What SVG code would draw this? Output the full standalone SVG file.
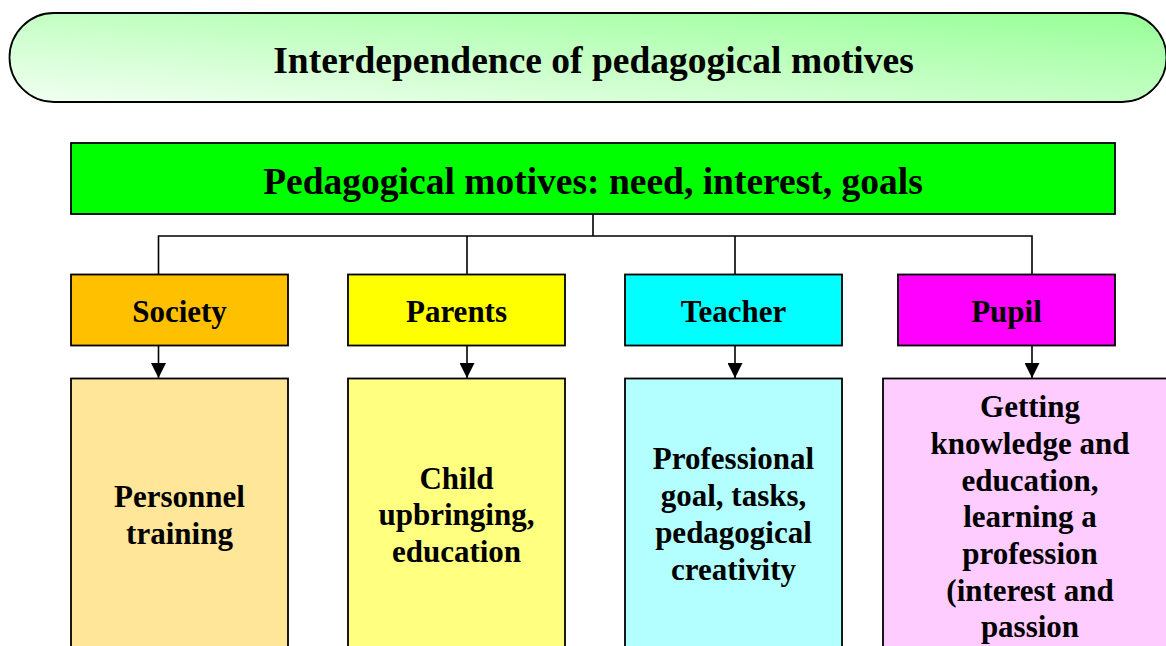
<svg xmlns="http://www.w3.org/2000/svg" width="1166" height="646" viewBox="0 0 1166 646">
  <defs>
    <linearGradient id="bannerFill" x1="0" y1="1" x2="1" y2="0">
      <stop offset="0" stop-color="#f2fff2"/>
      <stop offset="1" stop-color="#96ff96"/>
    </linearGradient>
    <marker id="arrow" markerUnits="userSpaceOnUse" markerWidth="16" markerHeight="15" refX="15" refY="7.5" orient="auto">
      <path d="M0,0 L15,7.5 L0,15 Z" fill="#000"/>
    </marker>
    <style>
      .box { stroke: #000; stroke-width: 1.8; }
      .t { font-family: "Liberation Serif", "Times New Roman", serif; font-weight: bold; fill: #000; text-anchor: middle; }
      .big { font-size: 37.5px; }
      .lbl { font-size: 31px; }
      .wire { fill: none; stroke: #000; stroke-width: 1.6; }
    </style>
  </defs>

  <!-- title banner -->
  <g id="title">
    <rect class="box" x="9.5" y="13" width="1157" height="89" rx="44.5" ry="44.5" fill="url(#bannerFill)"/>
    <text class="t big" x="593.5" y="72.5">Interdependence of pedagogical motives</text>
  </g>

  <!-- root node -->
  <g id="motives">
    <rect class="box" x="71" y="143" width="1044" height="71" fill="#00ff00"/>
    <text class="t big" x="593" y="193.5">Pedagogical motives: need, interest, goals</text>
  </g>

  <!-- connectors -->
  <g id="connectors">
    <path class="wire" d="M593,214 V236 M158.5,274 V236 H1032 V274 M467,236 V274 M735,236 V274"/>
    <path class="wire" d="M158.5,346 V378" marker-end="url(#arrow)"/>
    <path class="wire" d="M467,346 V378" marker-end="url(#arrow)"/>
    <path class="wire" d="M735,346 V378" marker-end="url(#arrow)"/>
    <path class="wire" d="M1032,346 V378" marker-end="url(#arrow)"/>
  </g>

  <!-- actors -->
  <g id="society">
    <rect class="box" x="71" y="274.5" width="217" height="71" fill="#ffc000"/>
    <text class="t lbl" x="179.5" y="321.5">Society</text>
  </g>
  <g id="parents">
    <rect class="box" x="348" y="274.5" width="217" height="71" fill="#ffff00"/>
    <text class="t lbl" x="456.5" y="321.5">Parents</text>
  </g>
  <g id="teacher">
    <rect class="box" x="625" y="274.5" width="217" height="71" fill="#00ffff"/>
    <text class="t lbl" x="733.5" y="321.5">Teacher</text>
  </g>
  <g id="pupil">
    <rect class="box" x="898" y="274.5" width="217" height="71" fill="#ff00ff"/>
    <text class="t lbl" x="1006.5" y="321.5">Pupil</text>
  </g>

  <!-- motives of each actor -->
  <g id="society-motive">
    <rect class="box" x="71" y="378.5" width="217" height="290" fill="#ffe699"/>
    <text class="t lbl" x="179.5" y="507">Personnel</text>
    <text class="t lbl" x="179.5" y="543.5">training</text>
  </g>
  <g id="parents-motive">
    <rect class="box" x="348" y="378.5" width="217" height="290" fill="#ffff80"/>
    <text class="t lbl" x="456.5" y="488.5">Child</text>
    <text class="t lbl" x="456.5" y="525">upbringing,</text>
    <text class="t lbl" x="456.5" y="561.5">education</text>
  </g>
  <g id="teacher-motive">
    <rect class="box" x="625" y="378.5" width="217" height="290" fill="#b3ffff"/>
    <text class="t lbl" x="733.5" y="469">Professional</text>
    <text class="t lbl" x="733.5" y="506">goal, tasks,</text>
    <text class="t lbl" x="733.5" y="543">pedagogical</text>
    <text class="t lbl" x="733.5" y="580">creativity</text>
  </g>
  <g id="pupil-motive">
    <rect class="box" x="883" y="378.5" width="295" height="290" fill="#ffccff"/>
    <text class="t lbl" x="1030" y="417">Getting</text>
    <text class="t lbl" x="1030" y="454">knowledge and</text>
    <text class="t lbl" x="1030" y="490.5">education,</text>
    <text class="t lbl" x="1030" y="527">learning a</text>
    <text class="t lbl" x="1030" y="564">profession</text>
    <text class="t lbl" x="1030" y="600.5">(interest and</text>
    <text class="t lbl" x="1030" y="637">passion</text>
  </g>
</svg>
